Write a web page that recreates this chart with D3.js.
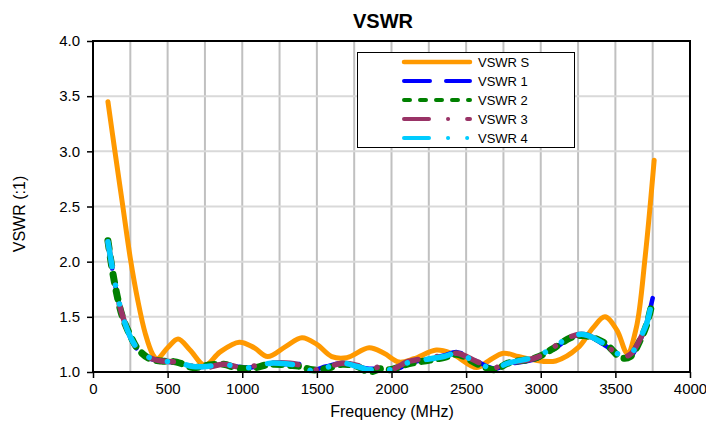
<!DOCTYPE html>
<html>
<head>
<meta charset="utf-8">
<script src="https://cdn.jsdelivr.net/npm/d3@7"></script>
<style>
  body { margin: 0; background: #fff; }
  text { font-family: "Liberation Sans", Arial, sans-serif; fill: #000; }
</style>
</head>
<body>
<svg id="chart" width="706" height="423"></svg>
<script>
// VSWR S (orange) - its own frequency points
const freqS = [100,150,200,250,300,350,400,430,500,570,650,750,850,980,1080,1170,1290,1400,1500,1600,1700,1850,1950,2050,2150,2300,2400,2570,2650,2750,2850,2950,3100,3250,3350,3430,3510,3580,3640,3700,3760];
const vswrS = [3.45,2.97,2.50,2.03,1.65,1.35,1.16,1.12,1.22,1.30,1.20,1.06,1.18,1.27,1.22,1.14,1.23,1.31,1.25,1.14,1.13,1.22,1.17,1.09,1.12,1.20,1.17,1.04,1.10,1.17,1.14,1.11,1.10,1.22,1.40,1.50,1.38,1.17,1.40,2.05,2.92];

// ports 1-4 share frequency points
const freqs = [100,135,170,200,250,300,380,460,560,670,760,870,960,1050,1190,1320,1390,1470,1560,1670,1770,1850,1930,1990,2060,2100,2350,2440,2580,2690,2780,2970,3080,3200,3290,3420,3540,3600,3670,3710,3750];
const vswr1 = [2.17,1.89,1.65,1.49,1.31,1.20,1.12,1.10,1.08,1.04,1.05,1.06,1.05,1.04,1.07,1.07,1.07,1.02,1.05,1.08,1.05,1.03,1.03,1.01,1.04,1.07,1.15,1.18,1.09,1.03,1.07,1.12,1.20,1.31,1.34,1.25,1.14,1.14,1.30,1.45,1.67];
const vswr2 = [2.19,1.88,1.64,1.49,1.33,1.21,1.12,1.10,1.09,1.04,1.06,1.07,1.04,1.03,1.07,1.06,1.05,1.02,1.03,1.07,1.05,1.00,1.03,1.02,1.05,1.07,1.13,1.16,1.07,1.02,1.08,1.13,1.21,1.31,1.33,1.27,1.13,1.14,1.30,1.43,1.65];
const vswr3 = [2.18,1.90,1.65,1.50,1.32,1.21,1.13,1.10,1.09,1.05,1.04,1.07,1.05,1.05,1.08,1.08,1.06,1.02,1.04,1.08,1.06,1.02,1.05,1.02,1.06,1.09,1.15,1.17,1.09,1.04,1.08,1.13,1.22,1.32,1.34,1.26,1.14,1.16,1.31,1.44,1.66];
const vswr4 = [2.18,1.90,1.66,1.50,1.32,1.21,1.13,1.10,1.09,1.05,1.05,1.07,1.05,1.04,1.08,1.07,1.06,1.01,1.04,1.08,1.05,1.02,1.04,1.02,1.05,1.08,1.14,1.17,1.08,1.03,1.08,1.14,1.22,1.32,1.34,1.26,1.15,1.16,1.32,1.44,1.68];

const xTicks = [0,500,1000,1500,2000,2500,3000,3500,4000];
const yTicks = [1.0,1.5,2.0,2.5,3.0,3.5,4.0];
const seriesNames = ["VSWR S","VSWR 1","VSWR 2","VSWR 3","VSWR 4"];

const svg = d3.select("#chart");
const pLeft = 93, pRight = 690, pTop = 41, pBottom = 372;

const x = d3.scaleLinear().domain([0, 4000]).range([pLeft, pRight]);
const y = d3.scaleLinear().domain([1, 4]).range([pBottom, pTop]);

// grid
svg.append("g").selectAll("line")
  .data(d3.range(250, 4000, 250))
  .join("line")
  .attr("x1", d => x(d)).attr("x2", d => x(d))
  .attr("y1", pTop).attr("y2", pBottom)
  .attr("stroke", "#c0c0c0").attr("stroke-width", 2);
svg.append("g").selectAll("line")
  .data(yTicks.slice(1, -1))
  .join("line")
  .attr("x1", pLeft).attr("x2", pRight)
  .attr("y1", d => y(d)).attr("y2", d => y(d))
  .attr("stroke", "#d9d9d9").attr("stroke-width", 2);

// axes
const xAxis = svg.append("g")
  .attr("transform", `translate(0,${pBottom})`)
  .call(d3.axisBottom(x).tickValues(xTicks).tickFormat(d3.format("d")).tickSize(6).tickPadding(5));
const yAxis = svg.append("g")
  .attr("transform", `translate(${pLeft},0)`)
  .call(d3.axisLeft(y).tickValues(yTicks).tickFormat(d3.format(".1f")).tickSize(6).tickPadding(7));
[xAxis, yAxis].forEach(a => {
  a.select(".domain").remove();
  a.selectAll("line").attr("stroke", "#000").attr("stroke-width", 1.5);
  a.selectAll("text").attr("font-size", 15).attr("font-family", "Liberation Sans, Arial, sans-serif").attr("fill", "#000");
});

const line = d3.line()
  .x(d => x(d[0]))
  .y(d => y(d[1]))
  .curve(d3.curveCatmullRom.alpha(0.5));

const styles = [
  { color: "#ff9900", width: 5, dash: null },
  { color: "#0000ff", width: 4.5, dash: "26,16" },
  { color: "#008000", width: 7, dash: "8,9" },
  { color: "#993366", width: 5.5, dash: "25,19,0.1,19" },
  { color: "#00ccff", width: 5.5, dash: "25,19,0.1,19,0.1,19" }
];

const series = [
  d3.zip(freqS, vswrS),
  d3.zip(freqs, vswr1),
  d3.zip(freqs, vswr2),
  d3.zip(freqs, vswr3),
  d3.zip(freqs, vswr4)
];

series.forEach((s, i) => {
  svg.append("path")
    .attr("d", line(s))
    .attr("fill", "none")
    .attr("stroke", styles[i].color)
    .attr("stroke-width", styles[i].width)
    .attr("stroke-linecap", "round")
    .attr("stroke-linejoin", "round")
    .attr("stroke-dasharray", styles[i].dash);
});

// plot frame
svg.append("rect")
  .attr("x", pLeft).attr("y", pTop)
  .attr("width", pRight - pLeft).attr("height", pBottom - pTop)
  .attr("fill", "none").attr("stroke", "#000").attr("stroke-width", 2);

// legend
const legendDash = [null, "26,16", "6,10", "25,19,0.1,19", "25,19,0.1,19,0.1,19"];
const lg = svg.append("g");
lg.append("rect")
  .attr("x", 357.5).attr("y", 52.5).attr("width", 217).attr("height", 95)
  .attr("fill", "#fff").attr("stroke", "#000").attr("stroke-width", 1);
seriesNames.forEach((name, i) => {
  const ly = 62 + i * 19;
  lg.append("line")
    .attr("x1", 404).attr("x2", 470).attr("y1", ly).attr("y2", ly)
    .attr("stroke", styles[i].color)
    .attr("stroke-width", i === 0 ? 4.5 : 4)
    .attr("stroke-linecap", "round")
    .attr("stroke-dasharray", legendDash[i]);
  lg.append("text")
    .attr("x", 478).attr("y", ly + 5)
    .attr("font-size", 13)
    .text(name);
});

// titles
svg.append("text")
  .attr("x", 383).attr("y", 28)
  .attr("text-anchor", "middle")
  .attr("font-size", 20).attr("font-weight", "bold")
  .text("VSWR");
svg.append("text")
  .attr("x", 392).attr("y", 417)
  .attr("text-anchor", "middle")
  .attr("font-size", 16)
  .text("Frequency (MHz)");
svg.append("text")
  .attr("transform", "translate(25,214) rotate(-90)")
  .attr("text-anchor", "middle")
  .attr("font-size", 16)
  .text("VSWR (:1)");
</script>
</body>
</html>
